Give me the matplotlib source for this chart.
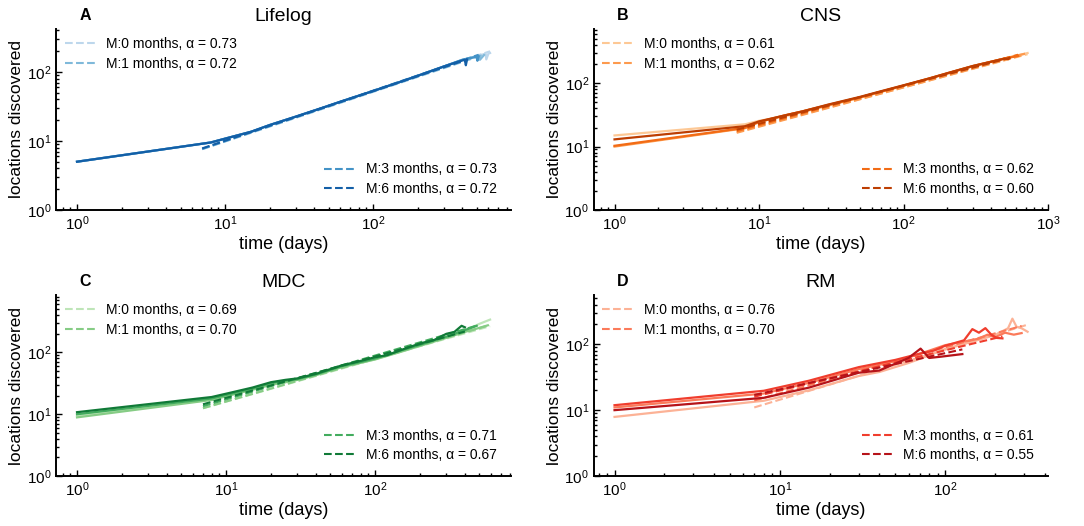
#!/usr/bin/env python3

import matplotlib
import matplotlib.pyplot as plt
import numpy as np

matplotlib.use('Agg')

plt.rcParams['font.family'] = ['Liberation Sans', 'DejaVu Sans']

months = [0, 1, 3, 6]
fitStart = 7

# Lifelog
lifelogDays = [
    [1, 8, 10, 15, 20, 30, 45, 60, 100, 150, 200, 300, 400, 480, 540, 575, 580, 600, 615],
    [1, 8, 10, 15, 20, 30, 45, 60, 100, 150, 200, 300, 400, 470, 520, 525, 560],
    [1, 8, 10, 15, 20, 30, 45, 60, 100, 150, 200, 300, 400, 460, 500, 505, 515],
    [1, 8, 10, 15, 20, 30, 45, 60, 100, 150, 200, 300, 380, 415, 422, 430],
]
lifelogCounts = [
    [5, 9.5, 10.8, 13.6, 17, 22.5, 30, 37, 53, 71, 88, 120, 150, 165, 178, 182, 152, 185, 188],
    [5, 9.5, 10.8, 13.6, 17, 22.5, 30, 37, 53, 71, 88, 120, 150, 163, 172, 150, 176],
    [5, 9.5, 10.8, 13.6, 17, 22.5, 30, 37, 53, 71, 88, 120, 150, 160, 166, 145, 168],
    [5, 9.5, 10.8, 13.6, 17, 22.5, 30, 37, 53, 71, 88, 120, 142, 150, 125, 152],
]
lifelogFitY0 = [7.6, 7.6, 7.7, 7.8]
lifelogFitEnd = [615, 560, 515, 430]
lifelogAlpha = [0.73, 0.72, 0.73, 0.72]

# CNS
cnsDays = [
    [1, 8, 10, 15, 20, 30, 50, 70, 100, 150, 200, 300, 500, 720],
    [1, 8, 10, 15, 20, 30, 50, 70, 100, 150, 200, 300, 500, 680],
    [1, 8, 10, 15, 20, 30, 50, 70, 100, 150, 200, 300, 500, 620],
    [1, 8, 10, 15, 20, 30, 50, 70, 100, 150, 200, 300, 500, 530, 540],
]
cnsCounts = [
    [15, 22.5, 25.5, 30, 35, 44, 59, 73, 91, 118, 142, 185, 245, 300],
    [10, 19.5, 24.5, 31, 36, 45, 60, 74, 92, 118, 143, 186, 246, 290],
    [10.3, 19.8, 24.5, 31, 36, 45.5, 60, 74, 92, 119, 143, 186, 246, 270],
    [13, 21, 25, 31, 36, 46, 61, 75, 93, 119, 144, 187, 245, 240, 250],
]
cnsFitY0 = [17.0, 16.5, 17.5, 18.5]
cnsFitEnd = [720, 680, 620, 540]
cnsAlpha = [0.61, 0.62, 0.62, 0.60]

# MDC
mdcDays = [
    [1, 8, 10, 15, 20, 25, 30, 40, 60, 80, 100, 150, 200, 300, 400, 500, 590],
    [1, 8, 10, 15, 20, 25, 30, 40, 60, 80, 100, 150, 200, 300, 400, 500, 570],
    [1, 8, 10, 15, 20, 25, 30, 40, 60, 80, 100, 150, 200, 300, 400, 480],
    [1, 8, 10, 15, 20, 25, 30, 40, 60, 80, 100, 120, 150, 200, 250, 300, 340, 380, 400],
]
mdcCounts = [
    [9.5, 17.5, 20, 25, 30, 33, 36, 43, 58, 68, 78, 105, 130, 175, 225, 290, 340],
    [8.9, 17, 19.5, 25, 30, 33, 36, 43, 58, 68, 77, 103, 128, 172, 215, 250, 275],
    [10, 18, 20.5, 26, 32, 35, 37, 44, 60, 70, 80, 108, 133, 180, 230, 270],
    [10.8, 19, 21.5, 27, 33, 36, 38, 45, 62, 73, 84, 90, 110, 140, 160, 200, 215, 270, 255],
]
mdcFitY0 = [12.5, 12.5, 13.5, 14.5]
mdcFitEnd = [590, 570, 480, 400]
mdcAlpha = [0.69, 0.70, 0.71, 0.67]

# RM
rmDays = [
    [1, 8, 15, 30, 40, 60, 80, 100, 150, 200, 240, 255, 270, 290, 315],
    [1, 8, 15, 30, 45, 60, 80, 100, 130, 160, 180, 200, 230, 260, 290],
    [1, 8, 15, 30, 50, 70, 85, 100, 130, 146, 160, 175, 190, 205, 222],
    [1, 8, 15, 30, 40, 60, 71, 80, 95, 110, 127],
]
rmCounts = [
    [7.9, 13.9, 20, 33, 38, 52, 68, 85, 112, 138, 175, 245, 185, 175, 155],
    [11, 17.9, 26, 42, 52, 63, 80, 97, 110, 122, 140, 128, 150, 140, 148],
    [11.9, 19.7, 28, 45, 58, 72, 80, 95, 115, 170, 150, 176, 140, 125, 123],
    [10, 15.4, 22, 37, 40, 62, 86, 62, 65, 68, 71],
]
rmFitY0 = [11.0, 14.0, 16.0, 17.0]
rmFitEnd = [315, 290, 222, 127]
rmAlpha = [0.76, 0.70, 0.61, 0.55]

panels = [
    ("A", "Lifelog", "Blues", lifelogDays, lifelogCounts, lifelogFitY0, lifelogFitEnd, lifelogAlpha, 420),
    ("B", "CNS", "Oranges", cnsDays, cnsCounts, cnsFitY0, cnsFitEnd, cnsAlpha, 720),
    ("C", "MDC", "Greens", mdcDays, mdcCounts, mdcFitY0, mdcFitEnd, mdcAlpha, 850),
    ("D", "RM", "Reds", rmDays, rmCounts, rmFitY0, rmFitEnd, rmAlpha, 560),
]

shades = [0.28, 0.45, 0.62, 0.82]


def drawPanel(ax, letter, title, cmapName, days, counts, fitY0, fitEnd, alphas, yTop):
    cmap = plt.get_cmap(cmapName)
    fits = []
    for i, m in enumerate(months):
        color = cmap(shades[i])
        ax.plot(days[i], counts[i], color=color, lw=1.6)
        y1 = fitY0[i] * (fitEnd[i] / fitStart) ** alphas[i]
        line, = ax.plot([fitStart, fitEnd[i]], [fitY0[i], y1], color=color, lw=1.5,
                        linestyle="--", label=f"M:{m} months, α = {alphas[i]:.2f}")
        fits.append(line)

    ax.set_xscale("log")
    ax.set_yscale("log")
    ax.set_ylim(1, yTop)
    ax.spines["top"].set_visible(False)
    ax.spines["right"].set_visible(False)
    for s in ("left", "bottom"):
        ax.spines[s].set_linewidth(1.4)
    ax.tick_params(which="both", direction="in", labelsize=11, width=1)
    ax.tick_params(which="major", length=4.5)
    ax.tick_params(which="minor", length=2.5)

    ax.set_title(title, fontsize=14, pad=6)
    ax.text(0.064, 1.075, letter, transform=ax.transAxes, fontsize=11.5,
            fontweight="bold", ha="center", va="center")
    ax.set_xlabel("time (days)", fontsize=13, labelpad=2)
    ax.set_ylabel("locations discovered", fontsize=12.5, labelpad=2)

    upper = ax.legend(handles=fits[:2], loc="upper left", frameon=False, fontsize=10,
                      handlelength=2.2, labelspacing=0.4, borderaxespad=0.2)
    ax.add_artist(upper)
    ax.legend(handles=fits[2:], loc="lower right", frameon=False, fontsize=10,
              handlelength=2.2, labelspacing=0.4, borderaxespad=0.6)


def main():
    fig, axes = plt.subplots(2, 2, figsize=(10.84, 5.26), dpi=100)
    fig.subplots_adjust(left=0.052, right=0.967, top=0.945, bottom=0.095,
                        wspace=0.183, hspace=0.47)
    for ax, panel in zip(axes.flat, panels):
        drawPanel(ax, *panel)
    fig.savefig("out.png", dpi=100)


if __name__ == "__main__":
    main()
